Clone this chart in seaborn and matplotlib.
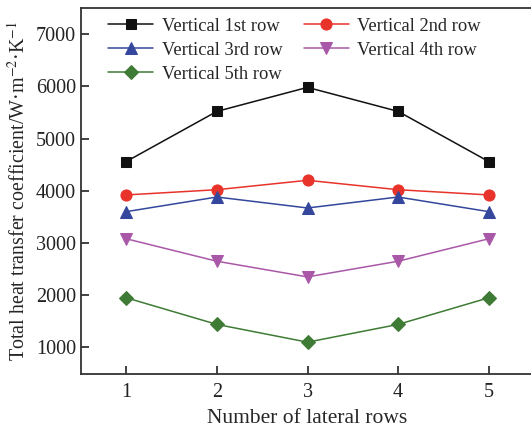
import numpy as np
import pandas as pd
import matplotlib
matplotlib.use("Agg")
import matplotlib.pyplot as plt
import seaborn as sns

lateral_rows = [1, 2, 3, 4, 5]
row1 = [4560, 5520, 5980, 5520, 4560]
row2 = [3920, 4020, 4200, 4020, 3920]
row3 = [3600, 3880, 3670, 3880, 3600]
row4 = [3080, 2650, 2350, 2650, 3080]
row5 = [1950, 1440, 1100, 1440, 1950]
series_names = ["Vertical 1st row", "Vertical 2nd row", "Vertical 3rd row",
                "Vertical 4th row", "Vertical 5th row"]
y_ticks = [1000, 2000, 3000, 4000, 5000, 6000, 7000]

colors = ["#111111", "#e8332b", "#34479c", "#a958a8", "#3e7b34"]
markers = ["s", "o", "^", "v", "D"]
marker_sizes = [7, 8, 8.5, 8.5, 7]

frames = []
for name, vals in zip(series_names, [row1, row2, row3, row4, row5]):
    frames.append(pd.DataFrame({"x": lateral_rows, "y": vals, "series": name}))
df = pd.concat(frames, ignore_index=True)

sns.set_theme(style="ticks")
plt.rcParams["font.family"] = ["Liberation Serif", "DejaVu Serif"]
plt.rcParams["mathtext.fontset"] = "stix"

fig = plt.figure(figsize=(5.31, 4.28), dpi=100)
ax = fig.add_axes([81 / 531, 1 - 373.5 / 428, 453 / 531, 365.5 / 428])

for name, c, m, ms in zip(series_names, colors, markers, marker_sizes):
    sub = df[df["series"] == name]
    sns.lineplot(data=sub, x="x", y="y", ax=ax, color=c, marker=m,
                 markersize=ms, markeredgecolor=c, linewidth=1.1,
                 label=name)

ax.set_xlim(0.5, 5.5)
ax.set_ylim(500, 7500)
ax.set_xticks(lateral_rows)
ax.set_yticks(y_ticks)
ax.tick_params(direction="in", length=6, width=1.2, labelsize=14.5,
               colors="#222222")
ax.tick_params(axis="x", pad=7)
ax.tick_params(axis="y", pad=3.5)
for s in ax.spines.values():
    s.set_linewidth(1.3)
    s.set_color("#333333")
ax.spines["right"].set_visible(False)

ax.set_xlabel("Number of lateral rows", fontsize=15.5, labelpad=5)
ax.set_ylabel("Total heat transfer coefficient/W·m$^{-2}$·K$^{-1}$",
              fontsize=14.4, labelpad=5)

# row-major legend order for two columns
handles, labels = ax.get_legend_handles_labels()
order = [0, 2, 4, 1, 3]
ax.legend([handles[i] for i in order], [labels[i] for i in order],
          loc="upper left", ncol=2, frameon=False, fontsize=13.3,
          handlelength=2.45, columnspacing=1.15, handletextpad=0.45,
          labelspacing=0.38, borderaxespad=0.0, borderpad=0.0,
          bbox_to_anchor=(0.06, 0.973))

fig.savefig("out.png", dpi=100)
